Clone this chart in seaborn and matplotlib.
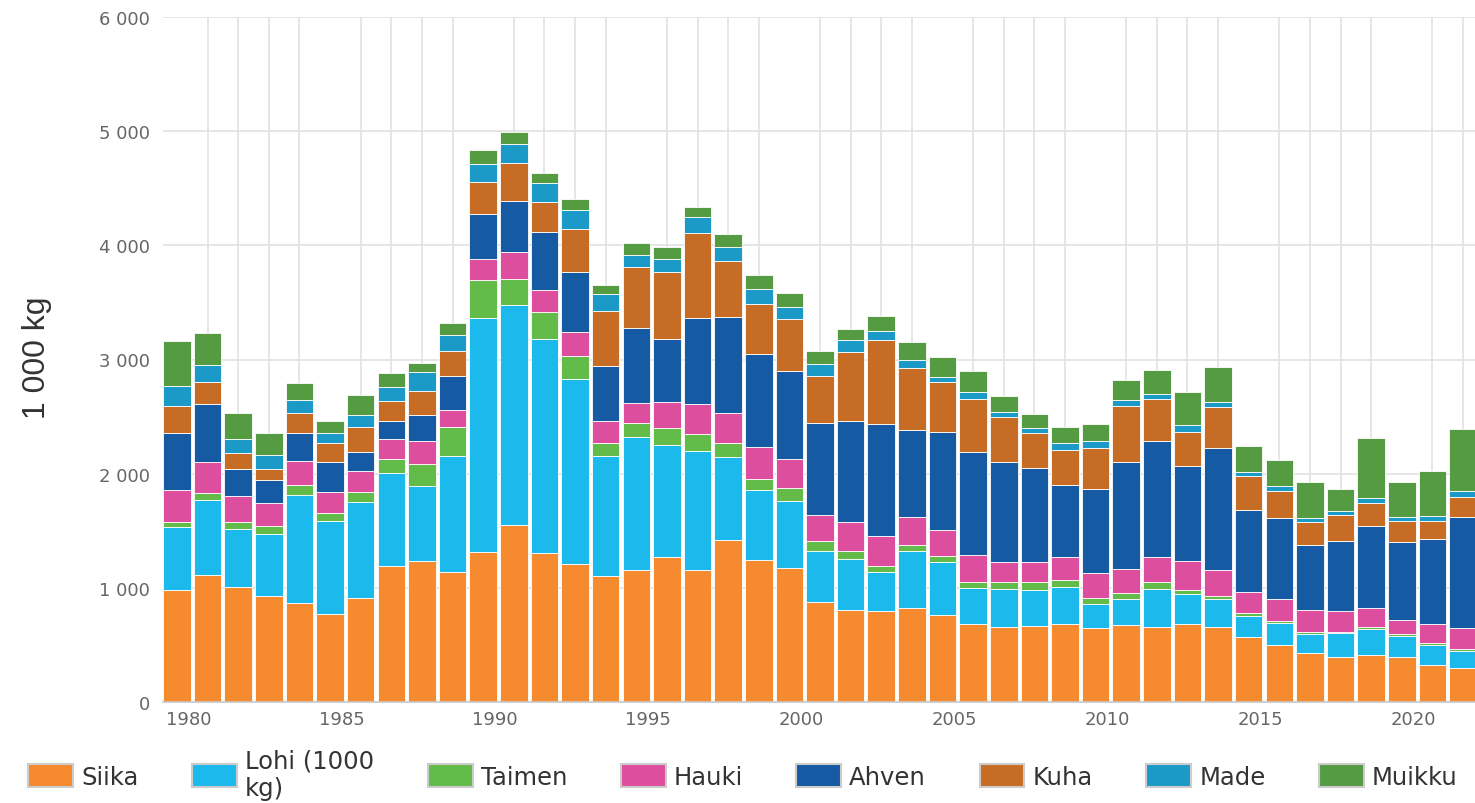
import matplotlib
matplotlib.use('Agg')
import matplotlib.pyplot as plt
import matplotlib.transforms as mtransforms
from matplotlib.patches import Patch
from matplotlib.ticker import FuncFormatter
from matplotlib import font_manager
import pandas as pd
import seaborn as sns

# saaliit 1980-2022, 1000 kg
years = list(range(1980, 2023))

siika = [984, 1113, 1005, 931, 867, 771, 908, 1189, 1238, 1140,
         1314, 1551, 1304, 1206, 1107, 1157, 1274, 1157, 1423, 1245,
         1172, 880, 807, 800, 820, 762, 683, 654, 663, 683,
         645, 675, 654, 683, 654, 566, 499, 429, 391, 412,
         391, 324, 295]
lohi = [552, 659, 510, 541, 946, 817, 841, 821, 657, 1018,
        2053, 1928, 1879, 1626, 1045, 1160, 976, 1044, 720, 612,
        592, 440, 446, 342, 506, 461, 313, 336, 318, 321,
        213, 227, 336, 263, 248, 184, 190, 167, 211, 227,
        190, 178, 155]
taimen = [43, 56, 64, 72, 88, 65, 93, 115, 191, 247,
          325, 230, 230, 203, 115, 126, 149, 146, 122, 96,
          107, 88, 73, 52, 49, 59, 58, 64, 67, 65,
          53, 50, 58, 38, 29, 30, 23, 14, 14, 15,
          15, 15, 14]
hauki = [278, 272, 223, 199, 208, 189, 184, 175, 204, 154,
         191, 230, 200, 207, 197, 175, 233, 262, 265, 277,
         257, 233, 254, 257, 243, 225, 234, 175, 175, 204,
         216, 213, 219, 248, 228, 181, 190, 199, 184, 167,
         125, 166, 181]
ahven = [499, 508, 239, 204, 247, 258, 167, 160, 223, 296,
         394, 453, 500, 526, 483, 661, 545, 758, 846, 822,
         772, 802, 883, 984, 765, 855, 899, 870, 827, 631,
         739, 940, 1016, 832, 1063, 724, 707, 569, 613, 718,
         678, 745, 979]
kuha = [240, 193, 138, 94, 173, 166, 213, 175, 214, 223,
        279, 329, 269, 371, 476, 531, 592, 743, 486, 437,
        452, 414, 604, 736, 543, 438, 467, 395, 306, 306,
        356, 485, 371, 304, 359, 298, 242, 196, 225, 201,
        189, 160, 169]
made = [170, 151, 125, 125, 119, 90, 108, 121, 161, 138,
        155, 164, 164, 171, 148, 102, 114, 139, 126, 131,
        111, 102, 105, 76, 70, 50, 59, 49, 41, 59,
        61, 56, 44, 59, 50, 35, 44, 38, 37, 44,
        36, 44, 58]
muikku = [399, 278, 225, 190, 146, 103, 175, 125, 85, 108,
          125, 105, 86, 98, 82, 105, 102, 87, 108, 120,
          122, 116, 93, 137, 155, 169, 189, 140, 126, 143,
          152, 175, 210, 286, 301, 222, 225, 318, 190, 526,
          306, 394, 540]

species = ['Siika', 'Lohi (1000 kg)', 'Taimen', 'Hauki', 'Ahven', 'Kuha', 'Made', 'Muikku']
legend_labels = ['Siika', 'Lohi (1000\nkg)', 'Taimen', 'Hauki', 'Ahven', 'Kuha', 'Made', 'Muikku']
colors = ['#f58a2f', '#1bb9ec', '#63bb4a', '#dd4e9e', '#155aa2', '#c66c24', '#1c9ac7', '#559b42']
series = [siika, lohi, taimen, hauki, ahven, kuha, made, muikku]

rows = []
for name, vals in zip(species, series):
    for y, v in zip(years, vals):
        rows.append({'vuosi': y, 'laji': name, 'arvo': v})
df = pd.DataFrame(rows)

sns.set_theme(style='whitegrid')
plt.rcParams['font.family'] = ['DejaVu Sans']

fig = plt.figure(figsize=(14.75, 8.04), dpi=100)
ax = fig.add_axes([163 / 1475, 101 / 804, (1475 - 163) / 1475, 685 / 804])

palette = dict(zip(species, colors))
# histplot stacks the first hue level on top, so reverse
sns.histplot(data=df, x='vuosi', weights='arvo', hue='laji',
             hue_order=species[::-1], palette=palette, multiple='stack',
             discrete=True, shrink=0.9, alpha=1, edgecolor='white',
             linewidth=0.6, legend=False, ax=ax)

ax.set_xlim(1979.543, 2022.39)
ax.set_ylim(0, 6000)
ax.set_yticks(range(0, 6001, 1000))
ax.yaxis.set_major_formatter(FuncFormatter(lambda v, p: f"{int(v):,}".replace(',', ' ')))
ax.set_xticks(range(1980, 2021, 5))
ax.set_xticks(years, minor=True)
ax.set_xlabel('')
ax.set_ylabel('')

ax.set_axisbelow(True)
ax.grid(False)
ax.grid(True, which='major', axis='y', color='#e2e2e2', linewidth=1.2)
ax.grid(True, which='minor', axis='x', color='#e2e2e2', linewidth=1.2)
for s in ['top', 'right', 'left']:
    ax.spines[s].set_visible(False)
ax.spines['bottom'].set_color('#c8c8c8')
ax.spines['bottom'].set_linewidth(1.2)

ax.tick_params(axis='both', which='both', length=0, labelsize=13, labelcolor='#666666')
ax.tick_params(axis='y', pad=9.5)
ax.tick_params(axis='x', pad=6)
shift = mtransforms.ScaledTranslation(12 / 100, 0, fig.dpi_scale_trans)
for lab in ax.get_xticklabels():
    lab.set_transform(lab.get_transform() + shift)

names = {f.name for f in font_manager.fontManager.ttflist}
ylab_font = 'Liberation Sans' if 'Liberation Sans' in names else 'DejaVu Sans'
fig.text(37 / 1475, 1 - 358 / 804, '1 000 kg', rotation=90, ha='center', va='center',
         fontsize=23, color='#333333', family=ylab_font)

handles = [Patch(facecolor=c, edgecolor='#cccccc', linewidth=1.5) for c in colors]
fig.legend(handles, legend_labels, ncol=8, loc='center', bbox_to_anchor=(743 / 1475, 0.036),
           frameon=False, fontsize=17.5, labelcolor='#333333', handlelength=1.85,
           handleheight=1.07, handletextpad=0.33, columnspacing=2.2, borderaxespad=0)

fig.savefig('out.png', dpi=100)
